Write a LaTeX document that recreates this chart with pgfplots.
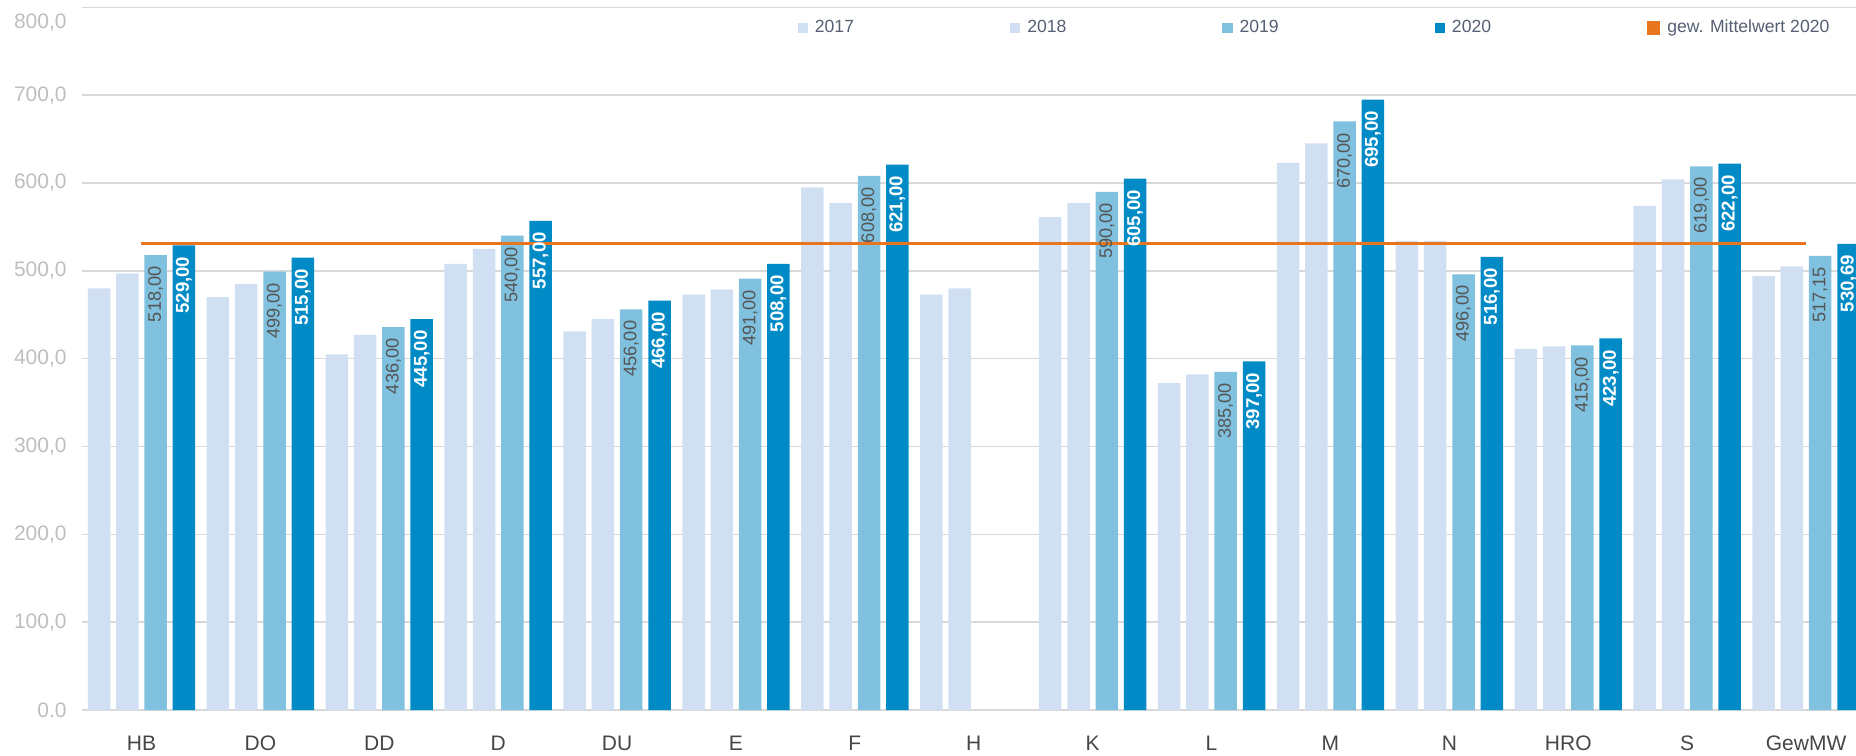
\documentclass[border=0pt]{standalone}
\usepackage{pgfplots}
\pgfplotsset{compat=1.18}
\usepackage{fontspec}
\setmainfont{Liberation Sans}
\definecolor{c17}{RGB}{208,224,242}
\definecolor{c19}{RGB}{127,193,223}
\definecolor{c20}{RGB}{0,139,199}
\definecolor{corange}{RGB}{232,118,30}
\definecolor{gridc}{RGB}{217,217,217}
\definecolor{ylab}{RGB}{190,190,190}
\definecolor{xlab}{RGB}{70,70,70}
\definecolor{leg}{RGB}{85,95,115}
\definecolor{lab19}{RGB}{85,85,85}
\begin{document}
\begin{tikzpicture}
\begin{axis}[
  name=ax, at={(0,0)}, anchor=south west,
  scale only axis, width=887pt, height=351.35pt,
  xmin=-0.5, xmax=14.42, ymin=0, ymax=800,
  ybar=2.9pt, bar width=11.25pt,
  xtick={0,...,14},
  xticklabels={HB,DO,DD,D,DU,E,F,H,K,L,M,N,HRO,S,GewMW},
  ytick={0,100,...,800},
  yticklabels={{0.0},{100,0},{200,0},{300,0},{400,0},{500,0},{600,0},{700,0},{\raisebox{-10.35pt}[0pt][0pt]{800,0}}},
  ymajorgrids, grid style={gridc, line width=0.7pt},
  major tick length=0pt, tick style={draw=none},
  axis line style={draw=none},
  xticklabel style={font=\fontsize{10.5}{12}\selectfont, text=xlab, anchor=north, inner sep=0pt,
    text height=7.6pt, text depth=0pt, yshift=-12.5pt},
  yticklabel style={font=\fontsize{10.5}{12}\selectfont, text=ylab, anchor=east, inner sep=0pt, xshift=-7.5pt},
  legend columns=5,
  legend style={draw=none, fill=none, inner sep=0pt,
    at={(axis description cs:0.4031,0.9705)}, anchor=west,
    font=\fontsize{8.8}{10}\selectfont, text=leg,
    nodes={inner xsep=2pt, inner ysep=0pt},
    /tikz/every odd column/.append style={column sep=1.5pt},
    /tikz/every even column/.append style={column sep=75.9pt}},
  legend image code/.code={\fill[#1] (0pt,-2.6pt) rectangle (5.2pt,2.6pt);},
  clip=true,
]
\addplot[fill=c17, draw=none] coordinates {
 (0,480) (1,470) (2,405) (3,508) (4,431) (5,473) (6,595) (7,473)
 (8,561) (9,372) (10,623) (11,534) (12,411) (13,574) (14,494)};
\addlegendentry{2017}
\addplot[fill=c17, draw=none] coordinates {
 (0,497) (1,485) (2,427) (3,525) (4,445) (5,479) (6,577) (7,480)
 (8,577) (9,382) (10,645) (11,534) (12,414) (13,604) (14,505)};
\addlegendentry{2018}
\addplot[fill=c19, draw=none,
  nodes near coords={\pgfmathprintnumber[fixed,fixed zerofill,precision=2,use comma,assume math mode=true]{\pgfplotspointmeta}},
  every node near coord/.append style={rotate=90, anchor=east, inner xsep=5.5pt, inner ysep=0pt,
    font=\fontsize{9.1}{11}\selectfont, text=lab19}] coordinates {
 (0,518) (1,499) (2,436) (3,540) (4,456) (5,491) (6,608)
 (8,590) (9,385) (10,670) (11,496) (12,415) (13,619) (14,517.15)};
\addlegendentry{2019}
\addplot[fill=c20, draw=none,
  nodes near coords={\pgfmathprintnumber[fixed,fixed zerofill,precision=2,use comma,assume math mode=true]{\pgfplotspointmeta}},
  every node near coord/.append style={rotate=90, anchor=east, inner xsep=5.5pt, inner ysep=0pt,
    font=\fontsize{9.3}{11}\selectfont\bfseries, text=white}] coordinates {
 (0,529) (1,515) (2,445) (3,557) (4,466) (5,508) (6,621)
 (8,605) (9,397) (10,695) (11,516) (12,423) (13,622) (14,530.69)};
\addlegendentry{2020}
\addplot[sharp plot, color=corange, line width=1.5pt, mark=none] coordinates {(0,530.69) (14,530.69)};
\addlegendentry{gew. Mittelwert 2020}
\end{axis}
\pgfresetboundingbox
\path[use as bounding box] (-41pt,-22.5pt) rectangle (887pt,355pt);
\end{tikzpicture}
\end{document}
